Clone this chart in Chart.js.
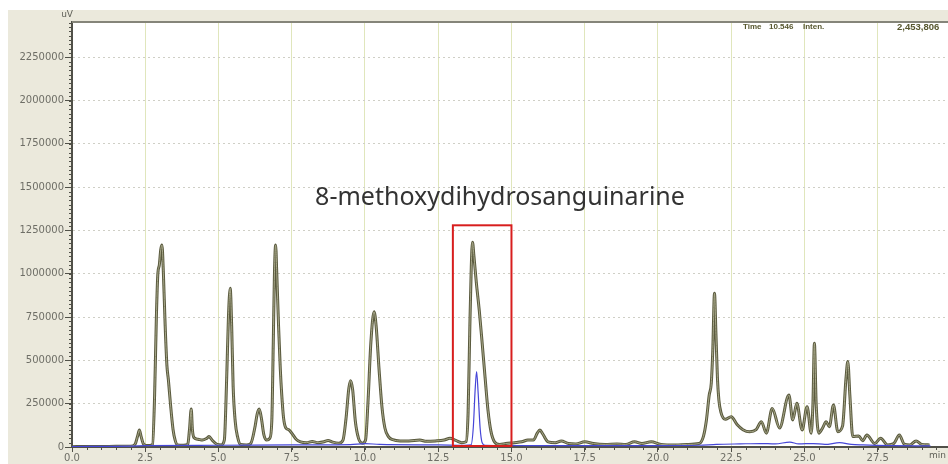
<!DOCTYPE html>
<html>
<head>
<meta charset="utf-8">
<script src="https://cdn.jsdelivr.net/npm/chart.js@4.4.1/dist/chart.umd.min.js"></script>
<style>
  html, body { margin: 0; padding: 0; background: #fff; }
  #wrap { width: 948px; height: 464px; }
</style>
</head>
<body>
<div id="wrap"><canvas id="chart" width="948" height="464"></canvas></div>
<script>
// main detector trace: retention time (min) and signal (uV)
const rtTimes = [
	0.0, 0.5, 1.0, 1.5, 2.0, 2.15, 2.25, 2.30, 2.36, 2.45, 2.6, 2.75, 2.82, 2.88, 2.93, 2.98, 3.03, 3.07,
	3.12, 3.18, 3.24, 3.29, 3.36, 3.45, 3.52, 3.6, 3.8, 3.95, 4.01, 4.07, 4.11, 4.16, 4.3, 4.45, 4.6, 4.68,
	4.78, 4.95, 5.1, 5.2, 5.28, 5.34, 5.40, 5.45, 5.5, 5.57, 5.65, 5.75, 5.95, 6.1, 6.25, 6.32, 6.39, 6.46,
	6.55, 6.65, 6.75, 6.82, 6.87, 6.91, 6.95, 6.99, 7.05, 7.11, 7.16, 7.22, 7.3, 7.4, 7.5, 7.65, 7.8, 8.0,
	8.2, 8.4, 8.6, 8.74, 8.9, 9.1, 9.25, 9.35, 9.45, 9.51, 9.58, 9.67, 9.78, 9.92, 10.02, 10.1, 10.2, 10.31,
	10.38, 10.48, 10.58, 10.68, 10.8, 10.95, 11.2, 11.5, 11.87, 12.1, 12.4, 12.7, 12.9, 13.1, 13.3, 13.45,
	13.52, 13.58, 13.63, 13.67, 13.72, 13.8, 13.9, 14.0, 14.1, 14.2, 14.3, 14.42, 14.6, 14.8, 15.1, 15.35,
	15.56, 15.75, 15.88, 15.97, 16.07, 16.25, 16.5, 16.7, 16.95, 17.2, 17.5, 17.8, 18.2, 18.6, 18.9, 19.2,
	19.45, 19.77, 20.1, 20.6, 21.0, 21.4, 21.55, 21.65, 21.75, 21.82, 21.87, 21.93, 21.98, 22.03, 22.08, 22.15,
	22.3, 22.5, 22.7, 22.9, 23.13, 23.35, 23.53, 23.7, 23.9, 24.15, 24.47, 24.6, 24.74, 24.92, 25.09, 25.23,
	25.29, 25.34, 25.4, 25.49, 25.62, 25.74, 25.85, 25.99, 26.14, 26.3, 26.42, 26.48, 26.55, 26.65, 26.85, 26.99,
	27.13, 27.4, 27.6, 27.84, 28.05, 28.24, 28.41, 28.6, 28.81, 29.0, 29.27
];
const rtSignal = [
	2000, 3000, 3000, 4000, 5000, 15000, 70000, 98000, 60000, 15000, 8000, 15000, 300000, 750000, 1000000, 1050000, 1140000, 1166000,
	1000000, 700000, 470000, 387000, 250000, 100000, 40000, 12000, 10000, 15000, 100000, 219000, 100000, 55000, 45000, 40000, 50000, 60000,
	40000, 15000, 12000, 40000, 400000, 750000, 916000, 700000, 350000, 150000, 60000, 15000, 12000, 20000, 120000, 190000, 219000, 170000,
	70000, 40000, 50000, 150000, 600000, 1000000, 1166000, 1000000, 700000, 450000, 300000, 170000, 110000, 100000, 80000, 45000, 30000, 25000,
	32000, 25000, 30000, 38000, 28000, 22000, 40000, 160000, 340000, 383000, 330000, 150000, 50000, 22000, 40000, 250000, 600000, 781000,
	700000, 450000, 230000, 110000, 60000, 42000, 35000, 35000, 40000, 33000, 35000, 40000, 50000, 38000, 25000, 30000,
	200000, 700000, 1050000, 1182000, 1100000, 950000, 790000, 600000, 400000, 210000, 90000, 30000, 15000, 20000, 25000, 30000,
	40000, 40000, 80000, 98000, 75000, 30000, 25000, 35000, 20000, 18000, 30000, 20000, 15000, 18000, 15000, 30000,
	20000, 30000, 15000, 12000, 15000, 20000, 60000, 150000, 300000, 368000, 550000, 887000, 650000, 400000, 271000, 200000,
	160000, 175000, 130000, 100000, 88000, 100000, 146000, 80000, 223000, 110000, 300000, 156000, 252000, 98000, 233000, 80000,
	250000, 599000, 250000, 80000, 110000, 146000, 117000, 242000, 88000, 120000, 400000, 493000, 300000, 60000, 64000, 36000,
	69000, 20000, 50000, 12000, 20000, 69000, 16000, 12000, 35000, 15000, 12000
];

// second channel (blue)
const uvTimes = [
	0.0, 2.0, 2.5, 5.0, 7.5, 9.5, 10.0, 10.5, 12.5, 13.4, 13.62, 13.7, 13.76, 13.81, 13.86, 13.93, 14.0, 14.1,
	16.0, 20.0, 21.4, 22.0, 22.8, 23.5, 24.0, 24.5, 24.8, 25.3, 25.7, 26.2, 26.6, 27.0, 28.0, 29.3
];
const uvSignal = [
	3000, 5000, 8000, 10000, 12000, 14000, 20000, 15000, 12000, 10000, 12000, 120000, 330000, 435000, 320000, 110000, 25000, 10000,
	8000, 8000, 10000, 15000, 18000, 20000, 18000, 28000, 18000, 20000, 15000, 25000, 15000, 12000, 8000, 6000
];

const xTicks = [0, 2.5, 5, 7.5, 10, 12.5, 15, 17.5, 20, 22.5, 25, 27.5];
const yTicks = [0, 250000, 500000, 750000, 1000000, 1250000, 1500000, 1750000, 2000000, 2250000];
const xMax = 29.9;
const yMax = 2453806;

const peakName = '8-methoxydihydrosanguinarine';
const peakBox = [13.0, 15.0, 0, 1280000];   // time from, time to, signal from, signal to
const cursorInfo = ['Time', '10.546', 'Inten.', '2,453,806'];

function toPoints(xs, ys) {
	return xs.map((x, i) => ({ x: x, y: ys[i] }));
}

const frame = {
	id: 'frame',
	beforeDraw(chart) {
		const ctx = chart.ctx, a = chart.chartArea;
		ctx.save();
		ctx.fillStyle = '#ffffff';
		ctx.fillRect(0, 0, chart.width, chart.height);
		ctx.fillStyle = '#ebe9dc';
		ctx.fillRect(8, 10, chart.width - 8, chart.height - 10);
		ctx.fillStyle = '#ffffff';
		ctx.fillRect(a.left, a.top, a.right - a.left, a.bottom - a.top);
		ctx.restore();
	},
	afterDraw(chart) {
		const ctx = chart.ctx, a = chart.chartArea;
		const xs = chart.scales.x, ys = chart.scales.y;
		ctx.save();

		// top border
		ctx.strokeStyle = '#85857a';
		ctx.lineWidth = 2;
		ctx.beginPath();
		ctx.moveTo(a.left, a.top);
		ctx.lineTo(a.right, a.top);
		ctx.stroke();

		// minor ticks
		ctx.strokeStyle = '#505048';
		ctx.lineWidth = 1;
		ctx.beginPath();
		for (let v = 0; v <= yMax; v += 25000) {
			const py = Math.round(ys.getPixelForValue(v)) + 0.5;
			ctx.moveTo(a.left - 3, py);
			ctx.lineTo(a.left + 1, py);
		}
		for (let t = 0; t <= xMax; t += 0.5) {
			const px = Math.round(xs.getPixelForValue(t)) + 0.5;
			ctx.moveTo(px, a.bottom);
			ctx.lineTo(px, a.bottom + 3);
		}
		ctx.stroke();

		ctx.fillStyle = '#606058';
		ctx.font = '9px "DejaVu Sans"';
		ctx.textAlign = 'right';
		ctx.textBaseline = 'middle';
		ctx.fillText('uV', a.left + 1, 15);
		ctx.fillText('min', chart.width - 2, a.bottom + 9);

		// cursor readout
		ctx.fillStyle = '#57572e';
		ctx.font = 'bold 8px "Liberation Sans"';
		ctx.textAlign = 'left';
		ctx.fillText(cursorInfo[0], 743, 27);
		ctx.fillText(cursorInfo[1], 769, 27);
		ctx.fillText(cursorInfo[2], 803, 27);
		ctx.font = 'bold 9.5px "Liberation Sans"';
		ctx.fillText(cursorInfo[3], 897, 27);

		// marked peak
		const x0 = xs.getPixelForValue(peakBox[0]), x1 = xs.getPixelForValue(peakBox[1]);
		const y0 = ys.getPixelForValue(peakBox[2]), y1 = ys.getPixelForValue(peakBox[3]);
		ctx.strokeStyle = '#d81e1e';
		ctx.lineWidth = 2;
		ctx.strokeRect(x0, y1, x1 - x0, y0 - y1 - 1);

		ctx.fillStyle = '#333333';
		ctx.font = '25px "Noto Sans"';
		ctx.textAlign = 'center';
		ctx.textBaseline = 'alphabetic';
		ctx.fillText(peakName, 500, 205);
		ctx.restore();
	}
};

new Chart(document.getElementById('chart'), {
	type: 'line',
	data: {
		datasets: [{
			data: toPoints(uvTimes, uvSignal),
			borderColor: '#4646d8',
			borderWidth: 1.2
		}, {
			data: toPoints(rtTimes, rtSignal),
			borderColor: '#a8a88a',
			borderWidth: 1
		}, {
			data: toPoints(rtTimes, rtSignal),
			borderColor: '#5a5a3e',
			borderWidth: 3
		}]
	},
	options: {
		responsive: false,
		animation: false,
		events: [],
		parsing: false,
		layout: { padding: { top: 22, right: 0, bottom: 0, left: 0 } },
		elements: {
			point: { radius: 0 },
			line: { cubicInterpolationMode: 'monotone', fill: false }
		},
		plugins: { legend: { display: false }, tooltip: { enabled: false } },
		scales: {
			x: {
				type: 'linear',
				min: 0,
				max: xMax,
				afterBuildTicks: s => { s.ticks = xTicks.map(v => ({ value: v })); },
				afterFit: s => { s.height = 17; },
				grid: { color: '#e0e6bc', lineWidth: 1, tickLength: 5, tickColor: '#505048' },
				border: { color: '#505048', width: 2 },
				ticks: {
					autoSkip: false,
					maxRotation: 0,
					padding: 0,
					color: '#6e6e66',
					font: { family: 'DejaVu Sans', size: 10 },
					callback: v => Number(v).toFixed(1)
				}
			},
			y: {
				min: 0,
				max: yMax,
				afterBuildTicks: s => { s.ticks = yTicks.map(v => ({ value: v })); },
				afterFit: s => { s.width = 72; },
				grid: { color: '#cfcfc6', lineWidth: 1, tickLength: 7, tickColor: '#505048' },
				border: { color: '#505048', width: 2, dash: [2, 3] },
				ticks: {
					padding: 1,
					color: '#6e6e66',
					font: { family: 'DejaVu Sans', size: 10 },
					callback: v => String(v)
				}
			}
		}
	},
	plugins: [frame]
});
</script>
</body>
</html>
